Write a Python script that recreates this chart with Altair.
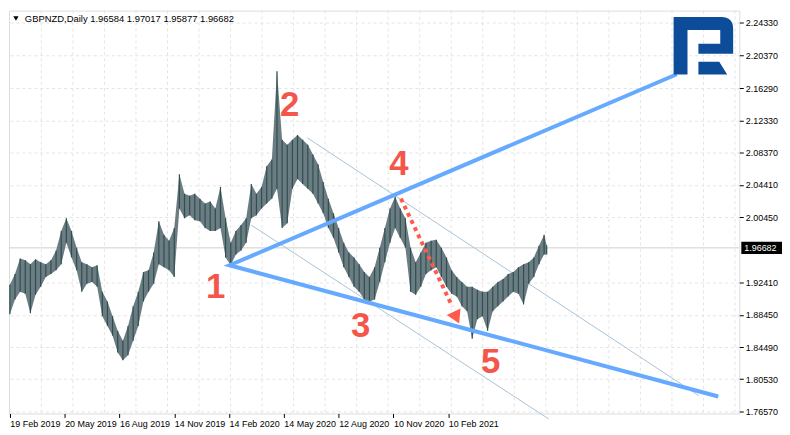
import altair as alt
import pandas as pd

# ---------------- data ----------------
bar_index = list(range(0, 625, 6)) + [627]
high = [1.9214, 1.9346, 1.9539, 1.9515, 1.9466, 1.9527, 1.9490, 1.9466, 1.9515, 1.9635,
        1.9876, 2.0032, 1.9876, 1.9671, 1.9490, 1.9466, 1.9430, 1.9454, 1.9129, 1.9009,
        1.8829, 1.8648, 1.8527, 1.8708, 1.8949, 1.9129, 1.9370, 1.9394, 1.9611, 1.9996,
        1.9828, 1.9755, 1.9912, 2.0574, 2.0333, 2.0309, 2.0333, 2.0273, 2.0213, 2.0237,
        2.0153, 2.0418, 2.0032, 1.9731, 1.9876, 1.9948, 2.0032, 2.0454, 2.0333, 2.0418,
        2.0671, 2.0755, 2.1839, 2.0996, 2.0936, 2.0996, 2.1056, 2.0996, 2.0936, 2.0815,
        2.0695, 2.0478, 2.0273, 2.0093, 1.9912, 1.9731, 1.9611, 1.9551, 1.9466, 1.9370,
        1.9310, 1.9430, 1.9671, 1.9912, 2.0153, 2.0297, 2.0153, 2.0032, 1.9671, 1.9490,
        1.9611, 1.9731, 1.9755, 1.9767, 1.9671, 1.9551, 1.9394, 1.9310, 1.9250, 1.9189,
        1.9189, 1.9153, 1.9129, 1.9129, 1.9189, 1.9250, 1.9286, 1.9346, 1.9370, 1.9430,
        1.9466, 1.9490, 1.9551, 1.9695, 1.9828, 1.97017]
low = [1.8853, 1.9033, 1.9129, 1.9105, 1.8865, 1.9093, 1.9189, 1.9310, 1.9346, 1.9394,
       1.9466, 1.9731, 1.9551, 1.9394, 1.9129, 1.9226, 1.9250, 1.9189, 1.8829, 1.8708,
       1.8588, 1.8383, 1.8287, 1.8347, 1.8527, 1.8708, 1.9009, 1.9129, 1.9226, 1.9466,
       1.9430, 1.9394, 1.9310, 2.0153, 2.0032, 2.0068, 2.0008, 1.9996, 1.9912, 1.9876,
       1.9876, 1.9912, 1.9551, 1.9454, 1.9587, 1.9635, 1.9731, 2.0032, 2.0068, 2.0153,
       2.0213, 2.0273, 2.0394, 1.9912, 1.9972, 2.0394, 2.0514, 2.0454, 2.0394, 2.0333,
       2.0213, 2.0093, 1.9912, 1.9791, 1.9611, 1.9430, 1.9310, 1.9189, 1.9129, 1.9033,
       1.9009, 1.9033, 1.9250, 1.9490, 1.9731, 1.9912, 1.9791, 1.9671, 1.9129, 1.9093,
       1.9189, 1.9346, 1.9394, 1.9430, 1.9310, 1.9189, 1.9105, 1.9069, 1.8949, 1.8889,
       1.8552, 1.8792, 1.8829, 1.8648, 1.8889, 1.8949, 1.9009, 1.9069, 1.9129, 1.9105,
       1.8973, 1.9226, 1.9310, 1.9466, 1.9587, 1.95877]

last_price = 1.96682
title_text = "GBPNZD,Daily  1.96584 1.97017 1.95877 1.96682"

x_tick_bars = [0, 64, 128, 192, 256, 320, 384, 448, 512]
x_tick_labels = ["19 Feb 2019", "20 May 2019", "16 Aug 2019", "14 Nov 2019",
                 "14 Feb 2020", "14 May 2020", "12 Aug 2020", "10 Nov 2020", "10 Feb 2021"]
y_ticks = [2.24330, 2.20370, 2.16290, 2.12330, 2.08370, 2.04410, 2.00450,
           1.92410, 1.88450, 1.84490, 1.80530, 1.76570]

# trend lines (bar index, price)
wedge_x = [779.0, 256.6, 827.4]
wedge_y = [2.1803, 1.9454, 1.7841]
thin1_x = [347.5, 804.4]
thin1_y = [2.1020, 1.7853]
thin2_x = [281.9, 629.5]
thin2_y = [1.9948, 1.7564]
arrow_x = [456.8, 516.7]
arrow_y = [2.0273, 1.8949]
arrow_head = (520.5, 1.8835)

point_labels = ["1", "2", "3", "4", "5"]
point_x = [240.5, 326.8, 409.7, 454.5, 561.6]
point_y = [1.9189, 2.1418, 1.8708, 2.0695, 1.8262]

logo_pos = (810.0, 2.2152)

# ---------------- layout ----------------
W, H = 736, 406
xs = alt.Scale(domain=[-1, 852], nice=False, zero=False)
ys = alt.Scale(domain=[1.7632, 2.2585], nice=False, zero=False)

label_expr = "[" + ",".join("'%s'" % s for s in x_tick_labels) + "][round(datum.value/64)]"
x_axis = alt.Axis(values=x_tick_bars, labelExpr=label_expr, grid=False, domain=False,
                  tickSize=4, tickColor="black", labelAlign="left", labelFont="Liberation Sans",
                  labelFontSize=9, labelColor="black", labelPadding=2, title=None,
                  labelFlush=False, labelOverlap=False)
y_axis = alt.Axis(orient="right", values=y_ticks, format=".5f", grid=True, gridDash=[3, 3],
                  gridColor="#e4e4e4", tickSize=4, tickColor="black", labelColor="black",
                  labelFont="Liberation Sans", labelFontSize=9, labelPadding=2, domain=False,
                  title=None, labelOverlap=False)


def X(f):
    return alt.X(f, scale=xs, axis=x_axis, title=None)


def Y(f):
    return alt.Y(f, scale=ys, axis=y_axis, title=None)


df_price = pd.DataFrame({"bar": bar_index, "high": high, "low": low})

grid_x = [32 * (k + 1) / 0.869 for k in range(23)]
grid = alt.Chart(pd.DataFrame({"bar": grid_x, "p": [1.9] * len(grid_x)})).mark_rule(
    color="#e4e4e4", strokeDash=[3, 3], strokeWidth=1
).encode(x=X("bar:Q"))

price_line = alt.Chart(pd.DataFrame({"p": [last_price]})).mark_rule(
    color="#cfcfcf", strokeWidth=1
).encode(y=Y("p:Q"))


def seg(xv, yv):
    return pd.DataFrame({"bx": xv, "py": yv, "o": list(range(len(xv)))})


thin = alt.layer(
    alt.Chart(seg(thin1_x, thin1_y)).mark_line(color="#a9c3d6", strokeWidth=1).encode(
        x=X("bx:Q"), y=Y("py:Q"), order="o:Q"),
    alt.Chart(seg(thin2_x, thin2_y)).mark_line(color="#a9c3d6", strokeWidth=1).encode(
        x=X("bx:Q"), y=Y("py:Q"), order="o:Q"),
)

area = alt.Chart(df_price).mark_area(color="#5b6e76", opacity=0.9, interpolate="linear").encode(
    x=X("bar:Q"), y=Y("low:Q"), y2="high:Q")
rules = alt.Chart(df_price).mark_rule(color="#2F4F4F", strokeWidth=1.2).encode(
    x=X("bar:Q"), y=Y("low:Q"), y2="high:Q")

wedge = alt.Chart(seg(wedge_x, wedge_y)).mark_line(
    color="#66aaff", strokeWidth=4, strokeJoin="miter"
).encode(x=X("bx:Q"), y=Y("py:Q"), order="o:Q")

arrow = alt.Chart(seg(arrow_x, arrow_y)).mark_line(
    color="#ff5a4a", strokeWidth=4, strokeDash=[4, 4]
).encode(x=X("bx:Q"), y=Y("py:Q"), order="o:Q")
head = alt.Chart(pd.DataFrame({"bx": [arrow_head[0]], "py": [arrow_head[1]]})).mark_point(
    shape="triangle", angle=155, size=230, filled=True, color="#ff5a4a", opacity=1
).encode(x=X("bx:Q"), y=Y("py:Q"))

df_pts = pd.DataFrame({"t": point_labels, "bx": point_x, "py": point_y})
digits = alt.Chart(df_pts).mark_text(
    color="#f4564a", font="Liberation Sans", fontWeight="bold", fontSize=35,
    align="center", baseline="middle"
).encode(x=X("bx:Q"), y=Y("py:Q"), text="t:N")

logo_path = ("M-1,-0.967 L0.6,-0.967 Q1,-0.967 1,-0.567 L1,0.267 L-0.167,0.267 "
             "L-0.167,-0.067 L0.567,-0.067 L0.567,-0.533 L-0.533,-0.533 L-0.533,0.967 "
             "L-1,0.967 Z M-0.167,0.533 L0.533,0.533 L0.8,0.967 L-0.167,0.967 Z")
logo = alt.Chart(pd.DataFrame({"bx": [logo_pos[0]], "py": [logo_pos[1]]})).mark_point(
    shape=logo_path, size=3600, filled=True, color="#0d4c98", opacity=1, strokeWidth=0
).encode(x=X("bx:Q"), y=Y("py:Q"))

title_df = pd.DataFrame({"t": [title_text]})
tri = alt.Chart(title_df).mark_point(shape="triangle-down", size=28, filled=True,
                                     color="black", opacity=1).encode(
    x=alt.value(7), y=alt.value(8))
title = alt.Chart(title_df).mark_text(align="left", baseline="middle", font="Liberation Sans",
                                      fontSize=9.5, color="black").encode(
    x=alt.value(16), y=alt.value(8), text="t:N")

box_df = pd.DataFrame({"p": [last_price], "t": ["%.5f" % last_price]})
box = alt.Chart(box_df).mark_point(
    shape="M-1,-0.3 L1,-0.3 L1,0.3 L-1,0.3 Z", size=1681, filled=True, color="black",
    opacity=1, strokeWidth=0
).encode(x=alt.value(W + 2 + 20.5), y=Y("p:Q"))
box_txt = alt.Chart(box_df).mark_text(align="left", baseline="middle", font="Liberation Sans",
                                      fontSize=9, color="white").encode(
    x=alt.value(W + 5), y=Y("p:Q"), text="t:N")

chart = alt.layer(
    grid, price_line, thin, area, rules, wedge, arrow, head,
    digits, logo, tri, title, box, box_txt
).properties(width=W, height=H, padding=0).configure_view(
    stroke="black", strokeWidth=1
).configure(background="white")

chart.save("out.html", embed_options={"renderer": "svg", "actions": False})
